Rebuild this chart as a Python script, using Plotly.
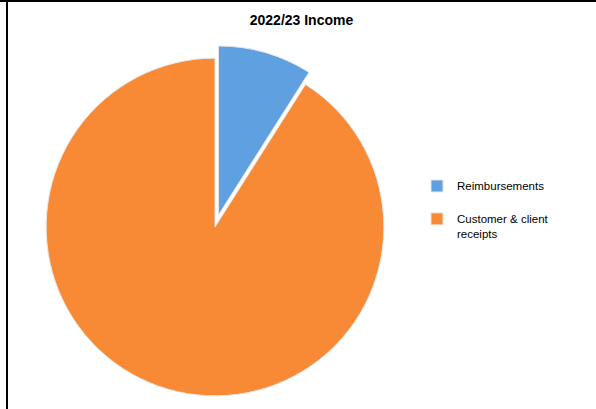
import plotly.graph_objects as go

title = "2022/23 Income"
categories = ["Reimbursements<br> ", "Customer & client<br>receipts"]
values = [9.0, 91.0]
colors = ["#5FA0E0", "#F88A35"]
pulls = [0.075, 0]

W, H = 596, 409
cx, cy, half = 215, 227, 181.5

fig = go.Figure(go.Pie(
    labels=categories,
    values=values,
    sort=False,
    direction="clockwise",
    rotation=0,
    pull=pulls,
    textinfo="none",
    hoverinfo="label+percent",
    marker=dict(colors=colors, line=dict(color="#E6E6E6", width=1)),
    domain=dict(x=[(cx - half) / W, (cx + half) / W],
                y=[1 - (cy + half) / H, 1 - (cy - half) / H]),
))

fig.update_layout(
    width=W, height=H,
    margin=dict(l=0, r=0, t=0, b=0),
    paper_bgcolor="white",
    plot_bgcolor="white",
    font=dict(family="Liberation Sans, Arial, sans-serif", size=11.5, color="#000000"),
    title=dict(text="<b>" + title + "</b>", x=301.5 / W, xanchor="center",
               y=1 - 20 / H, yanchor="middle",
               font=dict(size=14, family="Liberation Sans, Arial, sans-serif")),
    legend=dict(x=417 / W, y=1 - 172 / H, xanchor="left", yanchor="top",
                font=dict(size=11.5), valign="top", itemwidth=30,
                bgcolor="rgba(0,0,0,0)"),
    shapes=[
        dict(type="line", xref="paper", yref="paper", x0=0, x1=1, y0=1 - 1 / H, y1=1 - 1 / H,
             line=dict(color="#000000", width=2)),
        dict(type="line", xref="paper", yref="paper", x0=7 / W, x1=7 / W, y0=0, y1=1,
             line=dict(color="#000000", width=2)),
    ],
)

fig.write_html("out.html", config={"displayModeBar": False},
               post_script="document.body.style.margin='0';")
